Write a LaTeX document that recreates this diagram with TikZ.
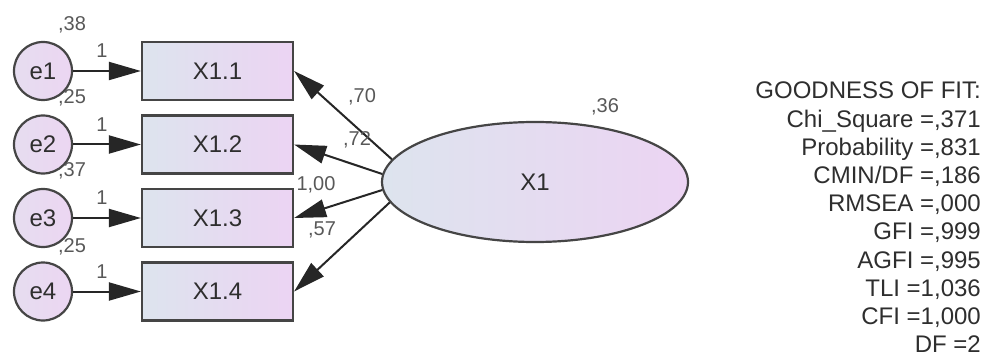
\documentclass[tikz,border=0pt]{standalone}
\usepackage{fontspec}
\setmainfont{Liberation Sans}
\usetikzlibrary{shapes.geometric,arrows.meta}
\definecolor{edge}{HTML}{454545}
\definecolor{txt}{HTML}{2E2E2E}
\definecolor{fillL}{HTML}{DDE4EE}
\definecolor{fillR}{HTML}{ECD4F3}
\definecolor{circL}{HTML}{E6DDF0}
\definecolor{circR}{HTML}{ECD6F2}
\tikzset{
  errnode/.style={circle, draw=edge, line width=2.2pt, minimum size=58pt, inner sep=0pt, left color=circL, right color=circR, text=txt, font=\fontsize{24}{24}\selectfont},
  obsbox/.style={rectangle, draw=edge, line width=2.2pt, minimum width=151pt, minimum height=58pt, inner sep=0pt, left color=fillL, right color=fillR, text=txt, font=\fontsize{24}{24}\selectfont},
  latent/.style={ellipse, draw=edge, line width=2.2pt, minimum width=306pt, minimum height=120pt, inner sep=0pt, left color=fillL, right color=fillR, text=txt, font=\fontsize{24}{24}\selectfont},
  arr/.style={draw=black!85, line width=2pt, -{Triangle[length=32pt,width=18pt]}},
  smalllab/.style={text=txt!80, font=\fontsize{20}{20}\selectfont, inner sep=0pt},
  fittext/.style={text=txt, font=\fontsize{24}{28.2}\selectfont, align=right, inner sep=0pt}
}
\begin{document}
\begin{tikzpicture}[x=1pt,y=-1pt]
\useasboundingbox (0,0) rectangle (987,358);
% observed boxes
\node[obsbox] (b1) at (217.5,71) {X1.1};
\node[obsbox] (b2) at (217.5,144.5) {X1.2};
\node[obsbox] (b3) at (217.5,218) {X1.3};
\node[obsbox] (b4) at (217.5,291.5) {X1.4};
% error circles
\node[errnode] (e1) at (43,71) {e1};
\node[errnode] (e2) at (43,144.5) {e2};
\node[errnode] (e3) at (43,218) {e3};
\node[errnode] (e4) at (43,291.5) {e4};
% latent
\node[latent] (X1) at (535,182) {X1};
% error arrows
\draw[arr] (e1) -- (b1);
\draw[arr] (e2) -- (b2);
\draw[arr] (e3) -- (b3);
\draw[arr] (e4) -- (b4);
% loadings
\draw[arr] (X1.171) -- (b1.east);
\draw[arr] (X1.177) -- (b2.east);
\draw[arr] (X1.183) -- (b3.east);
\draw[arr] (X1.188) -- (b4.east);
% regression weight labels
\node[smalllab] (w1) at (102,51) {1};
\node[smalllab] (w2) at (102,124.5) {1};
\node[smalllab] (w3) at (102,198) {1};
\node[smalllab] (w4) at (102,271.5) {1};
% variance labels
\node[smalllab] (v1) at (72,25) {,38};
\node[smalllab] (v2) at (72,98) {,25};
\node[smalllab] (v3) at (72,171) {,37};
\node[smalllab] (v4) at (72,247) {,25};
\node[smalllab] (vX) at (605,107) {,36};
% loading labels
\node[smalllab] (l1) at (362,97) {,70};
\node[smalllab] (l2) at (357,140) {,72};
\node[smalllab] (l3) at (316,185) {1,00};
\node[smalllab] (l4) at (322,230) {,57};
% fit
\node[fittext, anchor=north east] (fit) at (981,82) {GOODNESS OF FIT:\\Chi\_Square =,371\\Probability =,831\\CMIN/DF =,186\\RMSEA =,000\\GFI =,999\\AGFI =,995\\TLI =1,036\\CFI =1,000\\DF =2};
\end{tikzpicture}
\end{document}
